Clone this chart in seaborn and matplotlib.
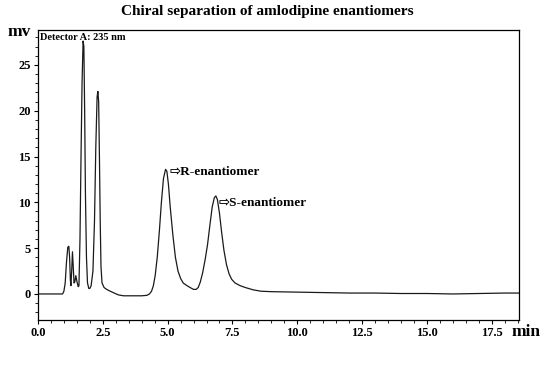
import numpy as np
import pandas as pd
import matplotlib
matplotlib.use("Agg")
import matplotlib.pyplot as plt
import seaborn as sns
from matplotlib.ticker import MultipleLocator, FormatStrFormatter

# chromatogram points (time in min, signal in mV)
time_min = [0.0, 0.95, 1.0, 1.05, 1.1, 1.15, 1.19, 1.22, 1.25, 1.27, 1.30, 1.33,
            1.36, 1.39, 1.42, 1.46, 1.50, 1.55, 1.58, 1.62, 1.66, 1.70, 1.74, 1.77,
            1.80, 1.83, 1.87, 1.91, 1.96, 2.0, 2.05, 2.12, 2.18, 2.23, 2.28, 2.31,
            2.34, 2.37, 2.40, 2.43, 2.47, 2.55, 2.65, 2.75, 2.9, 3.1, 3.3, 3.6,
            4.0, 4.2, 4.3, 4.38, 4.45, 4.52, 4.6, 4.68, 4.76, 4.84, 4.92, 4.97,
            5.03, 5.1, 5.2, 5.3, 5.4, 5.5, 5.6, 5.75, 5.9, 6.0, 6.1, 6.18, 6.26,
            6.35, 6.45, 6.54, 6.63, 6.72, 6.8, 6.86, 6.92, 7.0, 7.08, 7.17, 7.27,
            7.37, 7.47, 7.6, 7.8, 8.0, 8.3, 8.6, 9.0, 10.0, 11.0, 12.0, 13.0,
            14.0, 15.0, 16.0, 17.0, 18.0, 18.55]
signal_mv = [0.0, 0.0, 0.3, 1.2, 3.5, 5.1, 5.2, 4.0, 1.5, 0.9, 2.5, 4.6,
             3.0, 1.2, 1.3, 2.0, 1.4, 0.8, 0.9, 6.0, 15.0, 23.0, 27.6, 27.0,
             20.0, 11.0, 4.0, 1.2, 0.6, 0.6, 0.9, 2.5, 8.0, 16.0, 21.5, 22.1,
             21.0, 15.0, 8.0, 3.0, 1.2, 0.7, 0.5, 0.35, 0.15, -0.1, -0.2, -0.2,
             -0.2, -0.15, 0.0, 0.3, 0.9, 2.0, 4.0, 6.8, 10.0, 12.6, 13.6, 13.4,
             12.0, 9.5, 6.5, 4.0, 2.5, 1.7, 1.2, 0.9, 0.65, 0.5, 0.5, 0.7, 1.3,
             2.3, 3.8, 5.4, 7.5, 9.5, 10.5, 10.7, 10.3, 8.8, 6.8, 4.8, 3.2,
             2.2, 1.6, 1.2, 0.9, 0.7, 0.45, 0.3, 0.25, 0.2, 0.15, 0.1, 0.1,
             0.05, 0.05, 0.0, 0.05, 0.1, 0.1]

peak_labels = ["R-enantiomer", "S-enantiomer"]
peak_times = [5.09, 6.98]
peak_heights = [13.3, 9.9]

df = pd.DataFrame({"time": time_min, "mv": signal_mv})

sns.set_style("ticks", {"axes.edgecolor": "black", "text.color": "black",
                        "xtick.color": "black", "ytick.color": "black"})
plt.rcParams["font.family"] = ["Liberation Serif", "DejaVu Sans"]
plt.rcParams["font.weight"] = "bold"

fig = plt.figure(figsize=(5.48, 3.71), dpi=100)
ax = fig.add_axes([0.0693, 0.1375, 0.8777, 0.7815])

sns.lineplot(data=df, x="time", y="mv", ax=ax, color="#1a1a1a", linewidth=0.9)

ax.set_xlim(0, 18.55)
ax.set_ylim(-2.84, 28.8)
ax.xaxis.set_major_locator(MultipleLocator(2.5))
ax.xaxis.set_minor_locator(MultipleLocator(0.5))
ax.yaxis.set_major_locator(MultipleLocator(5))
ax.yaxis.set_minor_locator(MultipleLocator(1))
ax.xaxis.set_major_formatter(FormatStrFormatter("%.1f"))
ax.tick_params(which="major", length=3, width=0.8, labelsize=9, pad=2)
ax.tick_params(which="minor", length=2, width=0.6)
for lab in ax.get_xticklabels() + ax.get_yticklabels():
    lab.set_fontweight("bold")
for s in ax.spines.values():
    s.set_linewidth(0.9)
ax.set_xlabel("")
ax.set_ylabel("")

for name, t, h in zip(peak_labels, peak_times, peak_heights):
    ax.text(t, h, "\u21e8" + name, fontsize=9.5, fontweight="bold",
            ha="left", va="center")

ax.text(0.004, 0.99, "Detector A: 235 nm", transform=ax.transAxes,
        fontsize=7.5, fontweight="bold", ha="left", va="top")

fig.text(0.487, 0.97, "Chiral separation of amlodipine enantiomers",
         fontsize=11, fontweight="bold", ha="center", va="center")
fig.text(0.013, 0.915, "mv", fontsize=12.5, fontweight="bold", ha="left", va="center")
fig.text(0.933, 0.105, "min", fontsize=12.5, fontweight="bold", ha="left", va="center")

fig.savefig("out.png", dpi=100)
